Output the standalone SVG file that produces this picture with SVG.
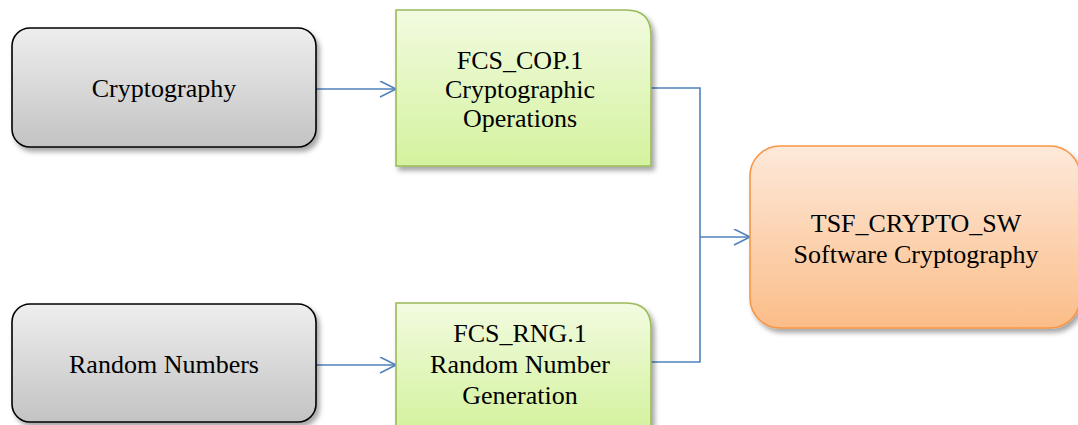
<svg xmlns="http://www.w3.org/2000/svg" width="1078" height="425" viewBox="0 0 1078 425">
<defs>
<linearGradient id="gGray" x1="0" y1="0" x2="0" y2="1"><stop offset="0" stop-color="#eeeeee"/><stop offset="1" stop-color="#c3c3c3"/></linearGradient>
<linearGradient id="gGreen" x1="0" y1="0" x2="0" y2="1"><stop offset="0" stop-color="#f2fbe0"/><stop offset="1" stop-color="#d4f29e"/></linearGradient>
<linearGradient id="gOrange" x1="0" y1="0" x2="0" y2="1"><stop offset="0" stop-color="#fde9da"/><stop offset="1" stop-color="#fbbd88"/></linearGradient>
<filter id="sh" x="-10%" y="-10%" width="125%" height="130%"><feDropShadow dx="3" dy="4" stdDeviation="2.5" flood-color="#000" flood-opacity="0.35"/></filter>
<marker id="arr" markerWidth="20" markerHeight="20" refX="18" refY="8" orient="auto" markerUnits="userSpaceOnUse"><path d="M2,0 L18,8 L2,16" fill="none" stroke="#4f81bd" stroke-width="1.6"/></marker>
<style>
text{font-family:"Liberation Serif","Times New Roman",serif;font-size:26px;fill:#000;text-anchor:middle}
.gray{fill:url(#gGray);stroke:#000;stroke-width:1.6;filter:url(#sh)}
.green{fill:url(#gGreen);stroke:#9bbb59;stroke-width:1.6;filter:url(#sh)}
.orange{fill:url(#gOrange);stroke:#f79646;stroke-width:1.6;filter:url(#sh)}
.c{fill:none;stroke:#4f81bd;stroke-width:1.6}
</style>
</defs>
<g id="connectors">
<path class="c" d="M316,89 H396" marker-end="url(#arr)"/>
<path class="c" d="M316,365 H396" marker-end="url(#arr)"/>
<path class="c" d="M651,88 H700 V362 H651"/>
<path class="c" d="M700,237 H750" marker-end="url(#arr)"/>
</g>
<g id="cryptography">
<rect class="gray" x="12" y="28" width="304" height="119" rx="18"/>
<text x="164" y="97">Cryptography</text>
</g>
<g id="random-numbers">
<rect class="gray" x="12" y="304" width="304" height="118" rx="18"/>
<text x="164" y="373">Random Numbers</text>
</g>
<g id="fcs-cop">
<path class="green" d="M396,10 H626 Q651,10 651,35 V166 H396 Z"/>
<text x="520" y="69">FCS_COP.1</text>
<text x="520" y="98">Cryptographic</text>
<text x="520" y="127">Operations</text>
</g>
<g id="fcs-rng">
<path class="green" d="M396,303 H626 Q651,303 651,328 V430 H396 Z"/>
<text x="520" y="342">FCS_RNG.1</text>
<text x="520" y="373">Random Number</text>
<text x="520" y="404">Generation</text>
</g>
<g id="tsf-crypto-sw">
<rect class="orange" x="750" y="146" width="330" height="182" rx="30"/>
<text x="916" y="232">TSF_CRYPTO_SW</text>
<text x="916" y="263">Software Cryptography</text>
</g>
</svg>
